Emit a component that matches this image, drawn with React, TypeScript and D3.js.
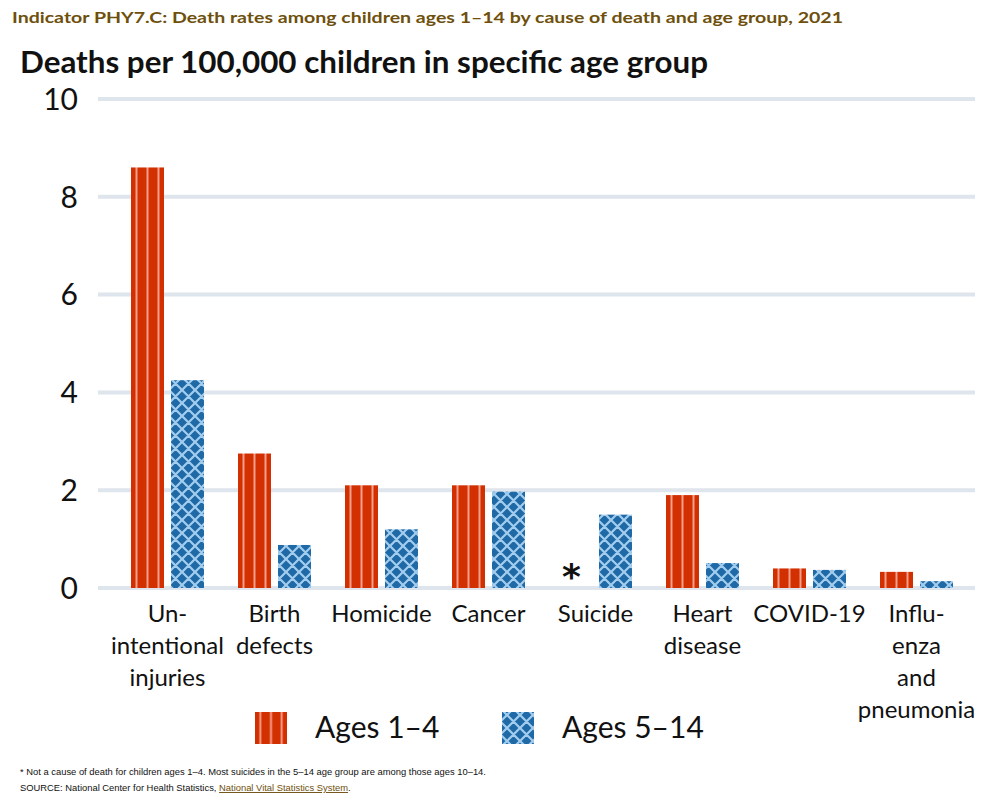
import React from "react";
import * as d3 from "d3";

const categories: string[][] = [
  ["Un-", "intentional", "injuries"],
  ["Birth", "defects"],
  ["Homicide"],
  ["Cancer"],
  ["Suicide"],
  ["Heart", "disease"],
  ["COVID-19"],
  ["Influ-", "enza", "and", "pneumonia"],
];
const ages1to4: (number | null)[] = [8.6, 2.75, 2.1, 2.1, null, 1.9, 0.4, 0.33];
const ages5to14: number[] = [4.25, 0.88, 1.2, 1.97, 1.5, 0.51, 0.37, 0.14];
const yTicks: number[] = [0, 2, 4, 6, 8, 10];
const seriesNames: string[] = ["Ages 1\u20134", "Ages 5\u201314"];

const W = 1000;
const H = 803;
const FONT = "Lato, 'Open Sans', sans-serif";
const NOTE_FONT = "'Liberation Sans', Arial, sans-serif";
const RED = "#d23000";
const RED_LIGHT = "#f7a08d";
const BLUE = "#1f6aa6";
const BLUE_LIGHT = "#a3cdef";
const GRID = "#dfe5ec";
const HATCH = 13;

export default function App() {
  const y = d3.scaleLinear().domain([0, 10]).range([588, 99]);
  const x = d3
    .scaleBand<number>()
    .domain(categories.map((_, i) => i))
    .range([114, 970]);
  const barW = 33;
  const gap = 3.5;

  return (
    <svg
      width={W}
      height={H}
      viewBox={`0 0 ${W} ${H}`}
      style={{ position: "absolute", top: 0, left: 0, background: "#fff" }}
    >
      <defs>
        <pattern
          id="redStripes"
          patternUnits="objectBoundingBox"
          patternContentUnits="objectBoundingBox"
          x="0"
          y="0"
          width={1 / 3}
          height="1"
        >
          <rect x="0" y="0" width={1 / 3} height="1" fill={RED} />
          <rect x={1 / 6 - 0.03} y="0" width="0.06" height="1" fill={RED_LIGHT} />
        </pattern>
        <pattern id="blueHatch" patternUnits="userSpaceOnUse" width={HATCH} height={HATCH}>
          <rect x="0" y="0" width={HATCH} height={HATCH} fill={BLUE} />
          <path
            d={`M0,0 L${HATCH},${HATCH} M${HATCH},0 L0,${HATCH} M-1,${HATCH - 1} L1,${HATCH + 1} M${HATCH - 1},-1 L${HATCH + 1},1 M-1,1 L1,-1 M${HATCH - 1},${HATCH + 1} L${HATCH + 1},${HATCH - 1}`}
            stroke={BLUE_LIGHT}
            strokeWidth="2.2"
          />
        </pattern>
      </defs>

      <text
        x={12}
        y={23}
        fontFamily={FONT}
        fontWeight={700}
        fontSize={16}
        fill="#6e4f0c"
        textLength={831}
        lengthAdjust="spacingAndGlyphs"
      >
        Indicator PHY7.C: Death rates among children ages 1–14 by cause of death and age group, 2021
      </text>
      <text
        x={20}
        y={73}
        fontFamily={FONT}
        fontWeight={700}
        fontSize={31}
        fill="#111"
        textLength={688}
        lengthAdjust="spacingAndGlyphs"
      >
        Deaths per 100,000 children in specific age group
      </text>

      {yTicks.map((t) => (
        <g key={t}>
          <line x1={98} x2={975} y1={y(t)} y2={y(t)} stroke={GRID} strokeWidth={4} />
          <text
            x={78}
            y={y(t)}
            dy="0.36em"
            textAnchor="end"
            fontFamily={FONT}
            fontSize={30}
            fill="#111"
          >
            {t}
          </text>
        </g>
      ))}

      {categories.map((_, i) => {
        const cx = (x(i) as number) + x.bandwidth() / 2;
        const v1 = ages1to4[i];
        const v2 = ages5to14[i];
        return (
          <g key={i}>
            {v1 !== null ? (
              <rect
                x={cx - gap - barW}
                y={y(v1)}
                width={barW}
                height={y(0) - y(v1)}
                fill="url(#redStripes)"
              />
            ) : (
              <text
                x={cx - gap - barW / 2 - 4}
                y={y(0) + 1}
                textAnchor="middle"
                fontFamily="'DejaVu Sans', sans-serif"
                fontWeight={700}
                fontSize={36}
                fill="#111"
              >
                *
              </text>
            )}
            <rect
              x={cx + gap}
              y={y(v2)}
              width={barW}
              height={y(0) - y(v2)}
              fill="url(#blueHatch)"
            />
          </g>
        );
      })}

      {categories.map((lines, i) => {
        const cx = (x(i) as number) + x.bandwidth() / 2;
        return (
          <text
            key={i}
            textAnchor="middle"
            fontFamily={FONT}
            fontSize={24}
            fill="#111"
          >
            {lines.map((l, j) => (
              <tspan key={j} x={cx} y={622 + j * 32}>
                {l}
              </tspan>
            ))}
          </text>
        );
      })}

      {/* Legend */}
      <g>
        <rect x={255} y={712} width={32} height={32} fill="url(#redStripes)" />
        <text x={315} y={738} fontFamily={FONT} fontSize={30} fill="#111">
          {seriesNames[0]}
        </text>
        <rect x={502} y={712} width={32} height={32} fill="url(#blueHatch)" />
        <text x={562} y={738} fontFamily={FONT} fontSize={30} fill="#111">
          {seriesNames[1]}
        </text>
      </g>

      <text x={20} y={775} fontFamily={NOTE_FONT} fontSize={9.4} fill="#111">
        * Not a cause of death for children ages 1–4. Most suicides in the 5–14 age group are among those ages 10–14.
      </text>
      <text x={20} y={791} fontFamily={NOTE_FONT} fontSize={9.4} fill="#111">
        SOURCE: National Center for Health Statistics,{" "}
        <tspan fill="#6e4f0c" textDecoration="underline">
          National Vital Statistics System
        </tspan>
        .
      </text>
    </svg>
  );
}
